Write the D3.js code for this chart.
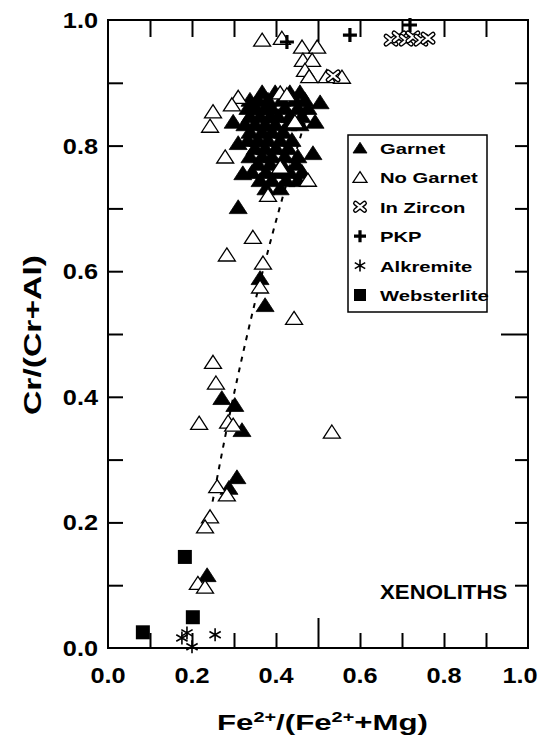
<!DOCTYPE html>
<html>
<head>
<meta charset="utf-8">
<script src="https://cdn.jsdelivr.net/npm/d3@7"></script>
<style>
  body { margin: 0; background: #fff; }
  text { font-family: Arial, "Liberation Sans", sans-serif; font-weight: bold; fill: #000; }
</style>
</head>
<body>
<div id="container"></div>
<script>
// values: x = Fe2+/(Fe2+ + Mg), y = Cr/(Cr+Al)
var garnetX = [0.505,0.493,0.488,0.321,0.310,0.298,0.310,0.362,0.374,0.271,0.302,0.319,0.307,0.288,0.236,
  0.367,0.398,0.433,0.457,
  0.338,0.357,0.381,0.414,0.445,0.469,
  0.333,0.352,0.374,0.390,0.421,0.452,0.476,
  0.338,0.362,0.386,0.405,0.433,0.462,
  0.326,0.350,0.374,0.398,0.429,0.457,
  0.338,0.367,0.390,0.417,
  0.333,0.357,0.381,0.410,0.438,
  0.350,0.374,0.400,0.429,
  0.338,0.367,0.390,0.421,0.452,
  0.357,0.386,0.414,0.448,
  0.343,0.376,0.405,0.433,0.462,
  0.362,0.390,0.424,0.452,
  0.376,0.410];
var garnetY = [0.869,0.838,0.788,0.756,0.702,0.838,0.804,0.589,0.546,0.398,0.387,0.347,0.272,0.255,0.116,
  0.885,0.885,0.885,0.885,
  0.873,0.873,0.873,0.873,0.873,0.873,
  0.860,0.860,0.860,0.860,0.860,0.860,0.860,
  0.847,0.847,0.847,0.847,0.847,0.847,
  0.834,0.834,0.834,0.834,0.834,0.834,
  0.822,0.822,0.822,0.822,
  0.809,0.809,0.809,0.809,0.809,
  0.796,0.796,0.796,0.796,
  0.783,0.783,0.783,0.783,0.783,
  0.771,0.771,0.771,0.771,
  0.758,0.758,0.758,0.758,0.758,
  0.745,0.745,0.745,0.745,
  0.732,0.732];

var noGarnetX = [0.367,0.414,0.462,0.498,0.464,0.486,0.469,0.479,0.521,0.557,
  0.310,0.295,0.250,0.243,0.410,0.426,0.445,0.279,0.410,0.476,0.381,
  0.345,0.283,0.369,0.362,0.443,0.250,0.257,0.217,0.286,0.298,0.533,
  0.260,0.283,0.243,0.231,0.214,0.231];
var noGarnetY = [0.968,0.971,0.957,0.957,0.936,0.936,0.920,0.910,0.910,0.909,
  0.877,0.865,0.854,0.831,0.884,0.881,0.838,0.782,0.766,0.745,0.721,
  0.654,0.626,0.613,0.575,0.525,0.455,0.422,0.358,0.360,0.355,0.344,
  0.257,0.244,0.209,0.193,0.103,0.097];

var zirconX = [0.536,0.674,0.693,0.710,0.726,0.745,0.762];
var zirconY = [0.911,0.968,0.973,0.968,0.973,0.968,0.971];

var pkpX = [0.426,0.576,0.719];
var pkpY = [0.965,0.976,0.992];

var alkremiteX = [0.188,0.176,0.200,0.255];
var alkremiteY = [0.024,0.016,0.002,0.021];

var websterliteX = [0.183,0.202,0.083];
var websterliteY = [0.145,0.049,0.025];

var trendX = [0.249,0.305,0.400,0.470];
var trendY = [0.233,0.420,0.680,0.840];

var minorTicks = [0.1,0.2,0.3,0.4,0.5,0.6,0.7,0.8,0.9];
var labelTicks = [0.0,0.2,0.4,0.6,0.8,1.0];
var tickLabels = ["0.0","0.2","0.4","0.6","0.8","1.0"];

var legendNames = ["Garnet","No Garnet","In Zircon","PKP","Alkremite","Websterlite"];

// layout
var margin = {top:20, right:14, bottom:93, left:108};
var width = 542 - margin.left - margin.right;
var height = 741 - margin.top - margin.bottom;

var svg = d3.select("#container")
  .append("svg")
    .attr("width", 542)
    .attr("height", 741);

var g = svg.append("g")
  .attr("transform", "translate(" + margin.left + "," + margin.top + ")");

var x = d3.scaleLinear().domain([0, 1]).range([0, width]);
var y = d3.scaleLinear().domain([0, 1]).range([height, 0]);

// marker shapes (size = half width in px)
var triangle = {draw: function(c, r) {
  c.moveTo(0, -0.82 * r); c.lineTo(r, 0.72 * r); c.lineTo(-r, 0.72 * r); c.closePath();
}};
var plus = {draw: function(c, r) {
  c.moveTo(-r, 0); c.lineTo(r, 0); c.moveTo(0, -r); c.lineTo(0, r);
}};
var times = {draw: function(c, r) {
  c.moveTo(-r, -r * 0.8); c.lineTo(r, r * 0.8); c.moveTo(-r, r * 0.8); c.lineTo(r, -r * 0.8);
}};
var asterisk = {draw: function(c, r) {
  c.moveTo(0, -r); c.lineTo(0, r);
  c.moveTo(-r * 0.87, -r * 0.5); c.lineTo(r * 0.87, r * 0.5);
  c.moveTo(-r * 0.87, r * 0.5); c.lineTo(r * 0.87, -r * 0.5);
}};
var square = {draw: function(c, r) { c.rect(-r, -r, 2 * r, 2 * r); }};

function drawMarks(parent, type, key, r) {
  var sym = d3.symbol().type(type).size(r);
  var p = parent.append("path")
    .attr("d", sym);
  if (key === "garnet") p.attr("fill", "#000").attr("stroke", "#000").attr("stroke-width", 0.8);
  else if (key === "nogarnet") p.attr("fill", "#fff").attr("stroke", "#000").attr("stroke-width", 1.3);
  else if (key === "pkp") p.attr("fill", "none").attr("stroke", "#000").attr("stroke-width", 3.2);
  else if (key === "alk") p.attr("fill", "none").attr("stroke", "#000").attr("stroke-width", 1.6);
  else if (key === "web") p.attr("fill", "#000");
  else if (key === "zircon") {
    p.attr("fill", "none").attr("stroke", "#000").attr("stroke-width", 5).attr("stroke-linecap", "round");
    parent.append("path").attr("d", sym)
      .attr("fill", "none").attr("stroke", "#fff").attr("stroke-width", 2.2).attr("stroke-linecap", "round");
  }
}

function plotSeries(xs, ys, type, key, r) {
  var grp = g.append("g");
  grp.selectAll("g")
    .data(d3.zip(xs, ys))
    .enter()
    .append("g")
      .attr("transform", function(d) { return "translate(" + x(d[0]) + "," + y(d[1]) + ")"; })
      .each(function() { drawMarks(d3.select(this), type, key, r); });
}

// ticks, pointing inward on all four sides
function styleTicks(sel, longLen, dir) {
  sel.select(".domain").remove();
  sel.selectAll(".tick line").attr("stroke-width", 2);
  sel.selectAll(".tick").filter(function(d) { return d === 0.5; }).select("line")
    .attr(dir, longLen);
}
g.append("g").attr("transform", "translate(0," + height + ")")
  .call(d3.axisBottom(x).tickValues(minorTicks).tickSize(-15).tickFormat(""))
  .call(styleTicks, -30, "y2");
g.append("g")
  .call(d3.axisTop(x).tickValues(minorTicks).tickSize(-17).tickFormat(""))
  .call(styleTicks, 22, "y2");
g.append("g")
  .call(d3.axisLeft(y).tickValues(minorTicks).tickSize(-15).tickFormat(""))
  .call(styleTicks, 15, "x2");
g.append("g").attr("transform", "translate(" + width + ",0)")
  .call(d3.axisRight(y).tickValues(minorTicks).tickSize(-13).tickFormat(""))
  .call(styleTicks, -27, "x2");

g.append("rect")
  .attr("width", width).attr("height", height)
  .attr("fill", "none").attr("stroke", "#000").attr("stroke-width", 2);

// tick labels (the last x label sits a little left so it stays on the page)
g.append("g").selectAll("text")
  .data(d3.zip(labelTicks, tickLabels))
  .enter().append("text")
    .attr("transform", function(d) {
      var px = Math.min(x(d[0]), width - 8);
      return "translate(" + px + "," + (height + 35) + ") scale(1.15,1)";
    })
    .attr("text-anchor", "middle")
    .style("font-size", "22px")
    .text(function(d) { return d[1]; });
g.append("g").selectAll("text")
  .data(d3.zip(labelTicks, tickLabels))
  .enter().append("text")
    .attr("transform", function(d) { return "translate(-10," + (y(d[0]) + 8) + ") scale(1.15,1)"; })
    .attr("text-anchor", "end")
    .style("font-size", "22px")
    .text(function(d) { return d[1]; });

// trend line
g.append("path")
  .datum(d3.zip(trendX, trendY))
  .attr("fill", "none")
  .attr("stroke", "#000")
  .attr("stroke-width", 2)
  .attr("stroke-dasharray", "5,6")
  .attr("d", d3.line().x(function(d) { return x(d[0]); }).y(function(d) { return y(d[1]); }).curve(d3.curveMonotoneY));

// points
plotSeries(garnetX, garnetY, triangle, "garnet", 9);
plotSeries(noGarnetX, noGarnetY, triangle, "nogarnet", 8.5);
plotSeries(zirconX, zirconY, times, "zircon", 5);
plotSeries(pkpX, pkpY, plus, "pkp", 7);
plotSeries(alkremiteX, alkremiteY, asterisk, "alk", 6.5);
plotSeries(websterliteX, websterliteY, square, "web", 7);

// legend
var legend = svg.append("g").attr("transform", "translate(348,135)");
legend.append("rect")
  .attr("width", 139).attr("height", 177)
  .attr("fill", "#fff").attr("stroke", "#000").attr("stroke-width", 1.5);
var legendKeys = [[triangle,"garnet",7],[triangle,"nogarnet",7],[times,"zircon",4.5],[plus,"pkp",6],[asterisk,"alk",6],[square,"web",6]];
legendNames.forEach(function(name, i) {
  var row = legend.append("g").attr("transform", "translate(12," + (13 + i * 29.4) + ")");
  drawMarks(row, legendKeys[i][0], legendKeys[i][1], legendKeys[i][2]);
  row.append("text")
    .attr("transform", "translate(20,6) scale(1.35,1)")
    .style("font-size", "15px")
    .text(name);
});

// labels
svg.append("text")
  .attr("transform", "translate(380,599) scale(1.06,1)")
  .style("font-size", "21px")
  .text("XENOLITHS");

var xt = svg.append("text")
  .attr("x", 217).attr("y", 730)
  .attr("textLength", 211).attr("lengthAdjust", "spacingAndGlyphs")
  .style("font-size", "22px");
xt.append("tspan").text("Fe");
xt.append("tspan").attr("dy", -8).style("font-size", "14px").text("2+");
xt.append("tspan").attr("dy", 8).text("/(Fe");
xt.append("tspan").attr("dy", -8).style("font-size", "14px").text("2+");
xt.append("tspan").attr("dy", 8).text("+Mg)");

svg.append("text")
  .attr("transform", "translate(41,335) rotate(-90)")
  .attr("text-anchor", "middle")
  .attr("textLength", 160).attr("lengthAdjust", "spacingAndGlyphs")
  .style("font-size", "23px")
  .text("Cr/(Cr+Al)");
</script>
</body>
</html>
